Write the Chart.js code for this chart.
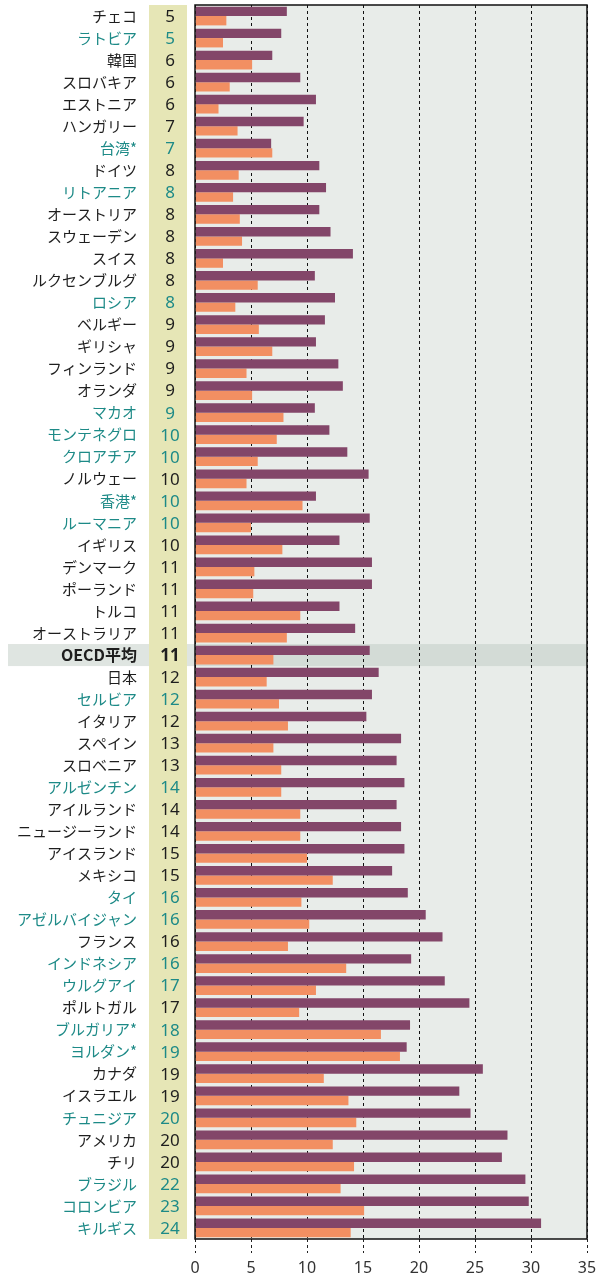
<!DOCTYPE html>
<html>
<head>
<meta charset="utf-8">
<script src="https://cdn.jsdelivr.net/npm/chart.js@4"></script>
<style>
  html, body { margin: 0; padding: 0; background: #fff; }
  #wrap { width: 598px; height: 1277px; position: relative; }
</style>
</head>
<body>
<div id="wrap"><canvas id="chart"></canvas></div>
<script>
const countries = ['チェコ','ラトビア','韓国','スロバキア','エストニア','ハンガリー','台湾*','ドイツ','リトアニア','オーストリア',
  'スウェーデン','スイス','ルクセンブルグ','ロシア','ベルギー','ギリシャ','フィンランド','オランダ','マカオ','モンテネグロ',
  'クロアチア','ノルウェー','香港*','ルーマニア','イギリス','デンマーク','ポーランド','トルコ','オーストラリア','OECD平均',
  '日本','セルビア','イタリア','スペイン','スロベニア','アルゼンチン','アイルランド','ニュージーランド','アイスランド','メキシコ',
  'タイ','アゼルバイジャン','フランス','インドネシア','ウルグアイ','ポルトガル','ブルガリア*','ヨルダン*','カナダ','イスラエル',
  'チュニジア','アメリカ','チリ','ブラジル','コロンビア','キルギス'];

const ranks = [5,5,6,6,6,7,7,8,8,8, 8,8,8,8,9,9,9,9,9,10, 10,10,10,10,10,11,11,11,11,11,
  12,12,12,13,13,14,14,14,15,15, 16,16,16,16,17,17,18,19,19,19, 20,20,20,22,23,24];

const partners = ['ラトビア','台湾*','リトアニア','ロシア','マカオ','モンテネグロ','クロアチア','香港*','ルーマニア','セルビア',
  'アルゼンチン','タイ','アゼルバイジャン','インドネシア','ウルグアイ','ブルガリア*','ヨルダン*','チュニジア','ブラジル','コロンビア','キルギス'];

const averageLabel = 'OECD平均';

const purpleValues = [8.2,7.7,6.9,9.4,10.8,9.7,6.8,11.1,11.7,11.1, 12.1,14.1,10.7,12.5,11.6,10.8,12.8,13.2,10.7,12.0,
  13.6,15.5,10.8,15.6,12.9,15.8,15.8,12.9,14.3,15.6, 16.4,15.8,15.3,18.4,18.0,18.7,18.0,18.4,18.7,17.6,
  19.0,20.6,22.1,19.3,22.3,24.5,19.2,18.9,25.7,23.6, 24.6,27.9,27.4,29.5,29.8,30.9];

const orangeValues = [2.8,2.5,5.1,3.1,2.1,3.8,6.9,3.9,3.4,4.0, 4.2,2.5,5.6,3.6,5.7,6.9,4.6,5.1,7.9,7.3,
  5.6,4.6,9.6,5.0,7.8,5.3,5.2,9.4,8.2,7.0, 6.4,7.5,8.3,7.0,7.7,7.7,9.4,9.4,10.0,12.3,
  9.5,10.2,8.3,13.5,10.8,9.3,16.6,18.3,11.5,13.7, 14.4,12.3,14.2,13.0,15.1,13.9];

const xTicks = [0,5,10,15,20,25,30,35];

const TEAL = '#1d8a87';
const TEXT = '#1e1e1e';
const isPartner = name => partners.includes(name);
const labelColor = name => isPartner(name) ? TEAL : TEXT;

const backdrop = {
  id: 'backdrop',
  beforeDraw(chart) {
    const { ctx, chartArea: a, scales: { y } } = chart;
    ctx.save();
    ctx.fillStyle = '#e8ece9';
    ctx.fillRect(a.left, a.top, a.right - a.left, a.bottom - a.top);
    // OECD average band
    const i = countries.indexOf(averageLabel);
    const rowH = (a.bottom - a.top) / countries.length;
    const yc = y.getPixelForValue(i);
    ctx.fillStyle = '#dfe5e1';
    ctx.fillRect(8, yc - rowH / 2, a.left - 8, rowH);
    ctx.fillStyle = '#d3dbd6';
    ctx.fillRect(a.left, yc - rowH / 2, a.right - a.left, rowH);
    // rank column
    ctx.fillStyle = '#e6e6b6';
    ctx.fillRect(149, a.top, 38, a.bottom - a.top);
    ctx.restore();
  },
  afterDatasetsDraw(chart) {
    const { ctx, chartArea: a, scales: { y } } = chart;
    ctx.save();
    ctx.strokeStyle = '#111';
    ctx.lineWidth = 1.5;
    ctx.strokeRect(a.left, a.top, a.right - a.left, a.bottom - a.top);
    ctx.textAlign = 'center';
    ctx.textBaseline = 'middle';
    ranks.forEach((r, i) => {
      const name = countries[i];
      const bold = name === averageLabel;
      ctx.font = (bold ? 'bold ' : '') + '17px "Noto Sans", sans-serif';
      ctx.fillStyle = labelColor(name);
      ctx.fillText(String(r), 170, y.getPixelForValue(i) + 1);
    });
    ctx.restore();
  }
};

new Chart(document.getElementById('chart'), {
  type: 'bar',
  data: {
    labels: countries,
    datasets: [
      {
        data: purpleValues,
        backgroundColor: '#834669',
        borderWidth: 0,
        barPercentage: 1,
        categoryPercentage: 0.85
      },
      {
        data: orangeValues,
        backgroundColor: '#f28f62',
        borderWidth: 0,
        barPercentage: 1,
        categoryPercentage: 0.85
      }
    ]
  },
  options: {
    indexAxis: 'y',
    responsive: true,
    maintainAspectRatio: false,
    animation: false,
    layout: { autoPadding: false, padding: { top: 5, right: 11, left: 0, bottom: 0 } },
    plugins: { legend: { display: false }, tooltip: { enabled: false } },
    scales: {
      x: {
        min: 0,
        max: 35,
        afterBuildTicks: s => { s.ticks = xTicks.map(v => ({ value: v })); },
        afterFit: s => { s.height = 38; s.paddingLeft = 0; s.paddingRight = 0; },
        grid: {
          color: '#111',
          lineWidth: 1,
          tickLength: 14,
          tickColor: '#222',
          tickBorderDash: [3, 3],
          drawTicks: true
        },
        border: { display: false, dash: [3, 3] },
        ticks: {
          padding: 6,
          color: '#333',
          font: { size: 16, family: '"Noto Sans", sans-serif' }
        }
      },
      y: {
        afterFit: s => { s.width = 195; s.paddingTop = 0; s.paddingBottom = 0; },
        grid: { display: false, drawTicks: false },
        border: { display: false },
        ticks: {
          autoSkip: false,
          padding: 58,
          color: c => labelColor(countries[c.index]),
          font: c => countries[c.index] === averageLabel
            ? { size: 16, weight: 'bold', family: '"Noto Sans CJK JP", sans-serif' }
            : { size: 15, family: '"Noto Sans CJK JP", sans-serif' }
        }
      }
    }
  },
  plugins: [backdrop]
});
</script>
</body>
</html>
